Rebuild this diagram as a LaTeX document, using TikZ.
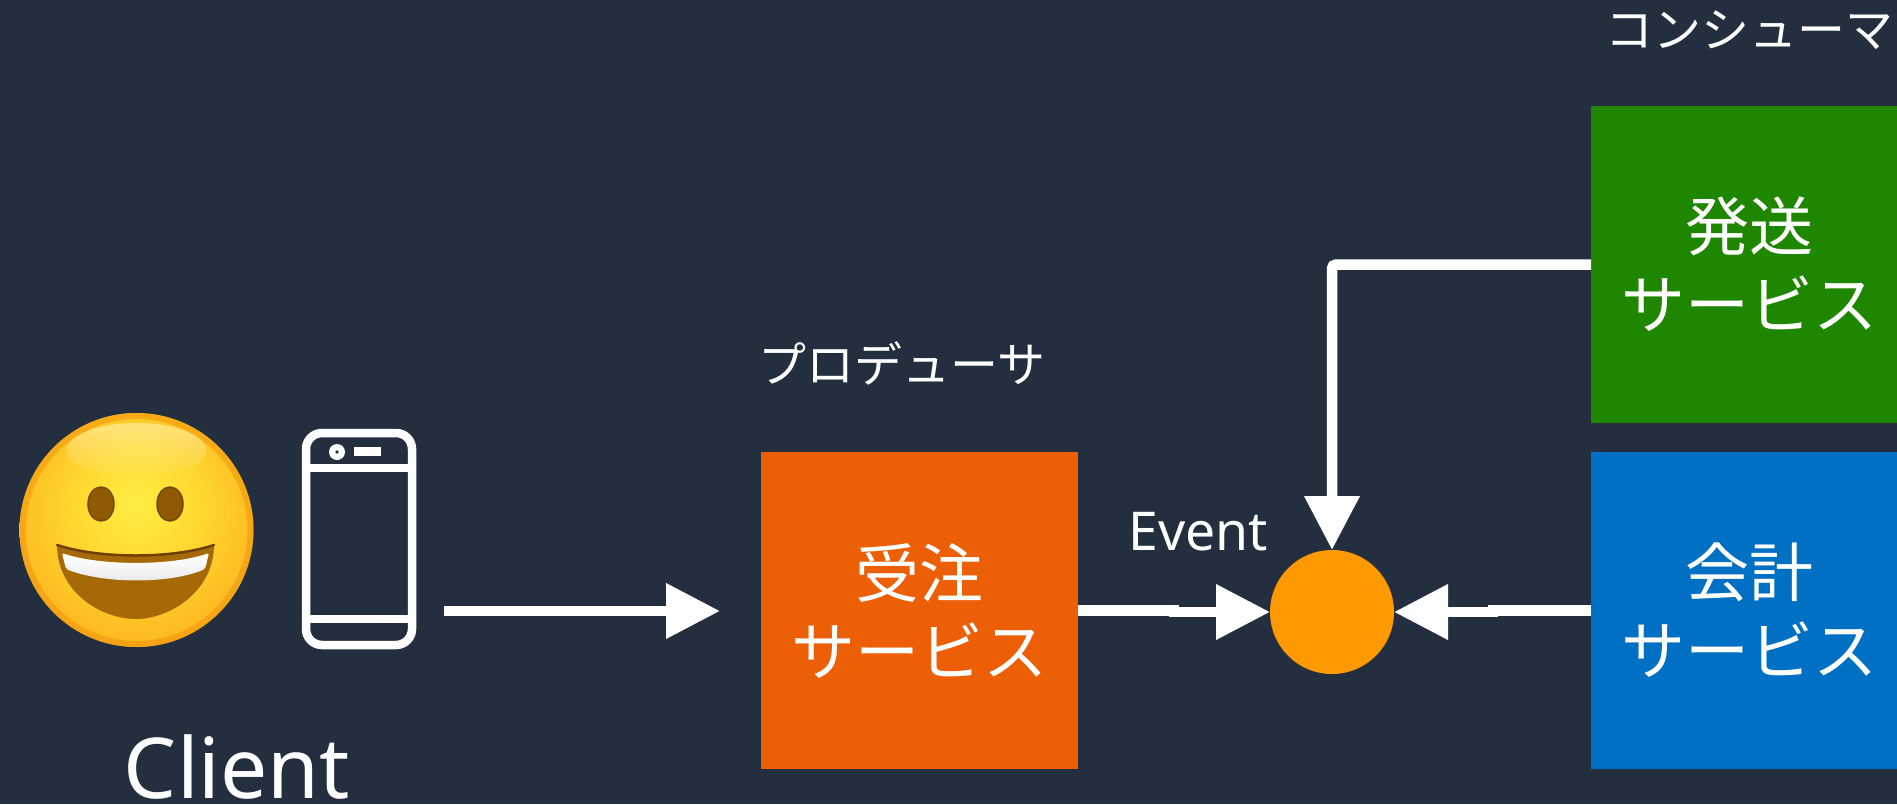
\documentclass[tikz,border=0pt]{standalone}
\usepackage{fontspec}
\setmainfont{Noto Sans}
\newfontfamily\jpfont{Noto Sans CJK JP}
\usetikzlibrary{arrows.meta,fadings}
\definecolor{bgc}{HTML}{232F3E}
\definecolor{orangebox}{HTML}{EC5F07}
\definecolor{greenbox}{HTML}{1F8600}
\definecolor{bluebox}{HTML}{0070C4}
\definecolor{busc}{HTML}{FF9900}
\definecolor{mouthc}{HTML}{A56A07}
\definecolor{mouthline}{HTML}{6E3F00}
\definecolor{eyec}{HTML}{8F5A04}
\definecolor{faceA}{HTML}{FFEE45}
\definecolor{faceB}{HTML}{FFD930}
\definecolor{faceC}{HTML}{FDB820}
\definecolor{faceD}{HTML}{FAA514}
\definecolor{faceE}{HTML}{F2940A}
\definecolor{faceF}{HTML}{E08000}
\pgfdeclareradialshading{facesh}{\pgfpoint{0bp}{6bp}}{
  color(0bp)=(faceA);
  color(13bp)=(faceB);
  color(28bp)=(faceC);
  color(40bp)=(faceD);
  color(46bp)=(faceE);
  color(55bp)=(faceF);
  color(70bp)=(faceF)}
\pgfdeclareverticalshading{teethsh}{100bp}{
  color(0bp)=(black!22);color(40bp)=(black!6);color(70bp)=(white);color(100bp)=(black!12)}
\tikzset{
  svc/.style={draw=none,minimum width=317pt,minimum height=317pt,inner sep=0pt,outer sep=0pt,align=center,
    text=white,font=\jpfont\fontsize{64}{78}\selectfont},
  jplabel/.style={text=white,inner sep=0pt,font=\jpfont\fontsize{48}{56}\selectfont},
  latinlabel/.style={text=white,inner sep=0pt,anchor=base},
  wire/.style={draw=white,line width=10.5pt,line join=miter},
  flow/.style={wire,-{Triangle[length=54pt,width=53pt]}},
  phoneline/.style={draw=white,line width=8.5pt}
}
\begin{document}
\begin{tikzpicture}[x=1pt,y=-1pt]
\clip (0,0) rectangle (1897,804);
\fill[bgc] (0,0) rectangle (1897,804);
\begin{scope}[shift={(0,1)}]
% emoji
\shade[shading=facesh] (136.5,529) circle (117);
\draw[faceE,line width=6pt,opacity=.55] (136.5,529) circle (114);
\fill[white!80!yellow,path fading=south,fill opacity=.5] (136.5,450) ellipse (70 and 28);
\fill[eyec,draw=mouthline!70!eyec,line width=1.5pt] (101,503) ellipse (13 and 17);
\fill[eyec,draw=mouthline!70!eyec,line width=1.5pt] (170,503) ellipse (13 and 17);
\fill[mouthc]
  (57,544) .. controls (100,558) and (172,558) .. (214,544)
  .. controls (214,590) and (170,618) .. (136,618)
  .. controls (100,618) and (57,590) .. (57,544) -- cycle;
\draw[mouthline,line width=2.5pt,line cap=round] (57,544) .. controls (100,558) and (172,558) .. (214,544);
\shade[shading=teethsh,rounded corners=2pt]
  (62,552) .. controls (100,565) and (172,565) .. (209,552)
  -- (205,568) .. controls (170,583) and (104,583) .. (66,568) -- cycle;
% phone
\node[draw=white,line width=8.5pt,rounded corners=16pt,minimum width=106pt,minimum height=212pt,inner sep=0pt,outer sep=0pt] (phone) at (359,538) {};
\coordinate (pa) at (0,467);
\coordinate (pb) at (0,618);
\draw[phoneline] (phone.west |- pa) -- (phone.east |- pa);
\draw[phoneline] (phone.west |- pb) -- (phone.east |- pb);
\fill[white] (337,451) circle (8);
\fill[bgc] (337,451) circle (1.8);
\fill[white] (354,446) rectangle (381,455);
% boxes
\node[svc,fill=orangebox] (order) at (919.5,609.5) {受注\\サービス};
\node[svc,fill=greenbox] (ship) at (1749.5,263.5) {発送\\サービス};
\node[svc,fill=bluebox] (acct) at (1749.5,609.5) {会計\\サービス};
\node[circle,fill=busc,minimum size=124pt,inner sep=0pt,outer sep=0pt] (bus) at (1332,611) {};
% connectors
\coordinate (cstart) at (444,610);
\coordinate (cend) at (720,610);
\draw[flow] (cstart) -- (cend);
\draw[flow] (order.east) -- ++(96,0) |- (bus.west);
\draw[flow] (acct.west) -- ++(-98,0) |- (bus.east);
\draw[flow,rounded corners=4pt] (ship.west) -| (bus.north);
% labels
\node[latinlabel,font=\fontsize{84}{90}\selectfont] (clientlabel) at (237,797) {Client};
\node[latinlabel,font=\fontsize{53.5}{60}\selectfont] (eventlabel) at (1198,549) {Event};
\node[jplabel] (producer) at (902,362) {プロデューサ};
\node[jplabel] (consumer) at (1749,29) {コンシューマ};
\end{scope}
\end{tikzpicture}
\end{document}
